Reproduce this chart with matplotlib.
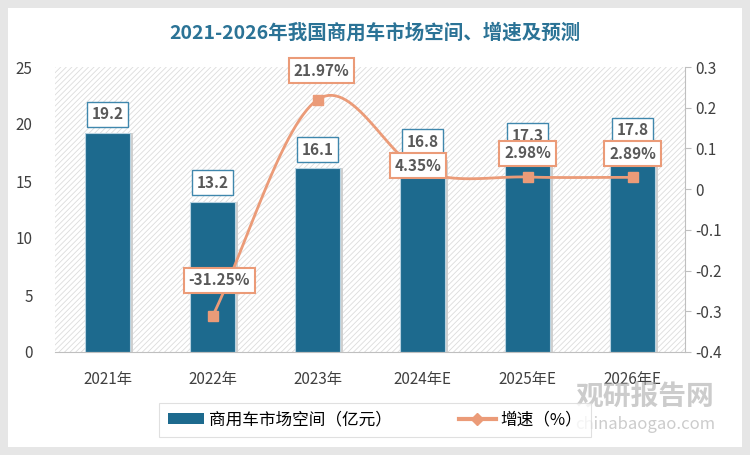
import numpy as np
import matplotlib
matplotlib.use("Agg")
import matplotlib.pyplot as plt
from matplotlib.patches import Rectangle, Patch
from matplotlib.lines import Line2D

plt.rcParams['font.family'] = ['Noto Sans CJK SC', 'DejaVu Sans']
plt.rcParams['hatch.linewidth'] = 0.6

years = ['2021年', '2022年', '2023年', '2024年E', '2025年E', '2026年E']
market = [19.2, 13.2, 16.1, 16.8, 17.3, 17.8]
growth = [None, -0.3125, 0.2197, 0.0435, 0.0298, 0.0289]
growth_labels = ['', '-31.25%', '21.97%', '4.35%', '2.98%', '2.89%']

bar_color = '#1d6a8e'
line_color = '#eb9b78'
text_grey = '#595959'


def catmull_rom(xs, ys, n=30):
    # smooth curve through the points, like the excel "smoothed line"
    px = np.concatenate([[2 * xs[0] - xs[1]], xs, [2 * xs[-1] - xs[-2]]])
    py = np.concatenate([[2 * ys[0] - ys[1]], ys, [2 * ys[-1] - ys[-2]]])
    out_x, out_y = [], []
    t = np.linspace(0, 1, n)
    for i in range(1, len(px) - 2):
        for p, out in ((px, out_x), (py, out_y)):
            p0, p1, p2, p3 = p[i - 1], p[i], p[i + 1], p[i + 2]
            out.extend(0.5 * (2 * p1 + (-p0 + p2) * t + (2 * p0 - 5 * p1 + 4 * p2 - p3) * t ** 2
                              + (-p0 + 3 * p1 - 3 * p2 + p3) * t ** 3))
    return np.array(out_x), np.array(out_y)


fig = plt.figure(figsize=(7.5, 4.55), dpi=100)
fig.patch.set_facecolor('#e6e6e6')
card = Rectangle((8 / 750, 8 / 455), 734 / 750, 439 / 455, transform=fig.transFigure,
                 facecolor='white', edgecolor='none', zorder=-10)
fig.add_artist(card)

ax = fig.add_axes([55 / 750, 103 / 455, 630 / 750, 285 / 455])
ax.set_facecolor('none')
x = np.arange(len(years))

# hatched plot background
ax.add_patch(Rectangle((0, 0), 1, 1, transform=ax.transAxes, facecolor='white',
                       edgecolor='#dcdcdc', hatch='//////', linewidth=0, zorder=0))

# bar shadows + bars
ax.bar(x + 0.03, market, 0.43, color='#d0d0d0', zorder=1)
ax.bar(x, market, 0.43, color=bar_color, edgecolor='#b8d2e0', linewidth=0.8, zorder=2)
ax.set_xlim(-0.5, len(years) - 0.5)
ax.set_ylim(0, 25)
ax.set_yticks(np.arange(0, 26, 5))
ax.set_xticks(x)
ax.set_xticklabels(years)
ax.tick_params(axis='x', length=0, pad=14, labelsize=11, colors='#404040')
ax.tick_params(axis='y', length=0, pad=16, labelsize=11, colors='#404040')
for s in ['top', 'left', 'right']:
    ax.spines[s].set_visible(False)
ax.spines['bottom'].set_color('#bfbfbf')

for xi, v in zip(x, market):
    ax.annotate(f'{v}', (xi, v), xytext=(0, 13.5), textcoords='offset points', ha='center', va='center',
                fontsize=11, fontweight='bold', color=text_grey, zorder=5,
                bbox=dict(boxstyle='square,pad=0.3', facecolor='white', edgecolor='#3f87ad', linewidth=1))

ax2 = ax.twinx()
ax2.set_ylim(-0.4, 0.3)
ax2.set_yticks(np.arange(-0.4, 0.31, 0.1))
ax2.set_yticklabels(['-0.4', '-0.3', '-0.2', '-0.1', '0', '0.1', '0.2', '0.3'])
ax2.tick_params(axis='y', length=4, color='#bfbfbf', labelsize=11, labelcolor='#404040')
for s in ['top', 'left', 'bottom']:
    ax2.spines[s].set_visible(False)
ax2.spines['right'].set_color('#bfbfbf')

gx = np.array([xi for xi, g in zip(x, growth) if g is not None], dtype=float)
gy = np.array([g for g in growth if g is not None])
sx, sy = catmull_rom(gx, gy)
ax2.plot(sx, sy, color=line_color, linewidth=2, zorder=3)
ax2.plot(gx, gy, linestyle='none', marker='s', markersize=7, color=line_color, zorder=3)

offsets = {1: (5, 26), 2: (3, 21), 3: (-3, 4), 4: (0, 17), 5: (0, 17)}
for i, lab in enumerate(growth_labels):
    if not lab:
        continue
    ax2.annotate(lab, (x[i], growth[i]), xytext=offsets[i], textcoords='offset points',
                 ha='center', va='center', fontsize=11, fontweight='bold', color=text_grey, zorder=6,
                 bbox=dict(boxstyle='square,pad=0.3', facecolor='white', edgecolor=line_color, linewidth=1.5))

fig.text(0.5, 0.927, '2021-2026年我国商用车市场空间、增速及预测', ha='center', va='center',
         fontsize=14, fontweight='bold', color='#2b7396')

handles = [Patch(facecolor=bar_color, label='商用车市场空间（亿元）'),
           Line2D([0], [0], color=line_color, linewidth=3, marker='D', markersize=6, label='增速（%）')]
leg = fig.legend(handles=handles, loc='center', bbox_to_anchor=(0.5, 0.077), ncol=2, fontsize=12,
                 frameon=True, fancybox=False, edgecolor='#d9d9d9', handlelength=2.2,
                 handletextpad=0.3, columnspacing=4, borderpad=0.5)
leg.get_frame().set_linewidth(0.8)

# watermark
fig.text(0.86, 0.128, '观研报告网', ha='center', va='center', fontsize=20, fontweight='bold',
         color='#aaaaaa', alpha=0.6)
fig.text(0.86, 0.068, 'chinabaogao.com', ha='center', va='center', fontsize=12,
         color='#aaaaaa', alpha=0.6)

fig.savefig('out.png', dpi=100)
